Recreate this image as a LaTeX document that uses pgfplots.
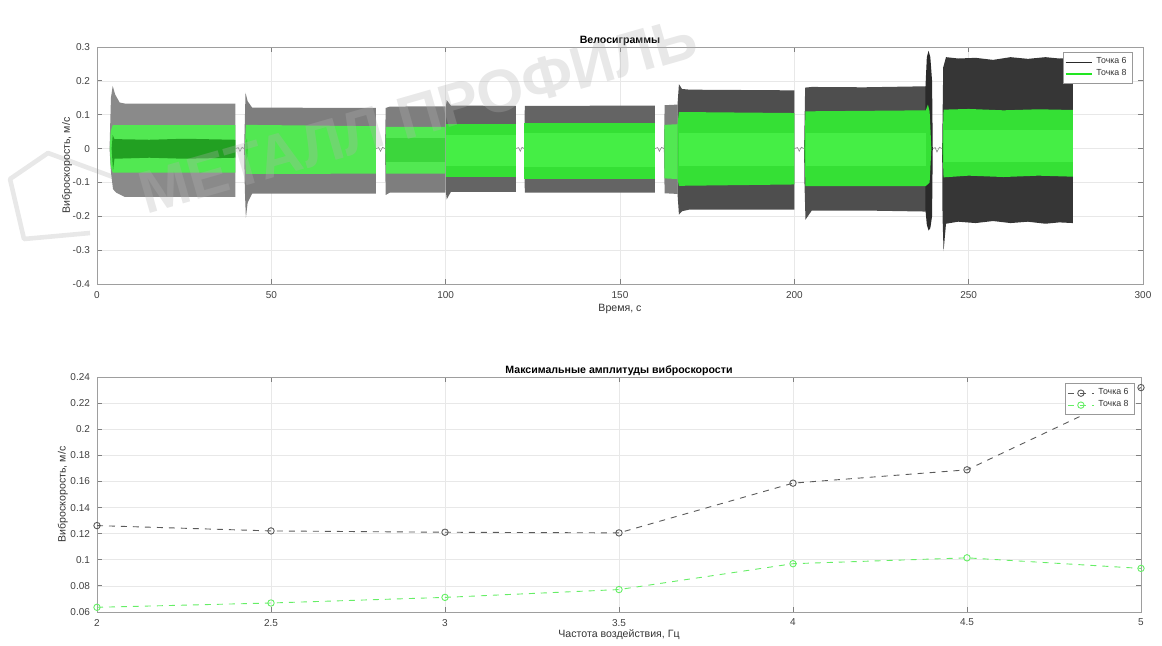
\documentclass[border=0pt]{standalone}
\usepackage{pgfplots}
\pgfplotsset{compat=1.18}
\usepackage{fontspec}
\setmainfont{Liberation Sans}
\definecolor{gA}{HTML}{8A8A8A}
\definecolor{gB}{HTML}{7E7E7E}
\definecolor{gC}{HTML}{646464}
\definecolor{gD}{HTML}{4E4E4E}
\definecolor{gE}{HTML}{363636}
\definecolor{gF}{HTML}{2A2A2A}
\definecolor{grL}{HTML}{52E852}
\definecolor{grD}{HTML}{22A022}
\definecolor{grM}{HTML}{35E035}
\definecolor{grI}{HTML}{45EE45}
\definecolor{grS}{HTML}{3CD63C}
\definecolor{lg6}{HTML}{5A5A5A}
\definecolor{lg8}{HTML}{66EE66}
\definecolor{leg8}{HTML}{22E622}
\pgfplotsset{
  mstyle/.style={
    scale only axis,
    axis line style={black!38},
    tick style={black!50, line width=0.4pt},
    major tick length=2.6pt,
    tick align=inside,
    grid=major,
    grid style={black!9, line width=0.3pt},
    tick label style={font=\fontsize{5}{6}\selectfont, text=black!75},
    label style={font=\fontsize{5.3}{6.3}\selectfont, text=black!80},
    title style={font=\bfseries\fontsize{5.3}{6.3}\selectfont, yshift=-9pt},
    /pgf/number format/assume math mode=true,
    legend style={draw=black!40, fill=white, font=\fontsize{4.4}{4.8}\selectfont,
      inner xsep=1pt, inner ysep=0.6pt, row sep=-2.6pt, text=black!80},
    legend cell align=left,
  }
}
\begin{document}
\begin{tikzpicture}
\useasboundingbox (0,0) rectangle (581pt,322.5pt);
% watermark logo
\draw[black!9, line width=2.3pt, line join=round] (45pt,206pt) -- (12pt,203pt) -- (5pt,233pt) -- (24pt,246pt) -- (62pt,232pt);
\begin{axis}[mstyle,
  at={(48.5pt,180.5pt)}, anchor=south west,
  width=523pt, height=118.5pt,
  xmin=0, xmax=300, ymin=-0.4, ymax=0.3,
  xtick={0,50,100,150,200,250,300},
  ytick={-0.4,-0.3,-0.2,-0.1,0,0.1,0.2,0.3},
  yticklabels={-0.4,-0.3,-0.2,-0.1,0,0.1,0.2,0.3},
  title={Велосиграммы},
  xlabel={Время, с}, ylabel={Виброскорость, м/с},
  xlabel style={yshift=4pt}, ylabel style={yshift=-6.5pt},
  legend style={at={(1,1)}, anchor=north east, xshift=-5pt, yshift=-2.5pt},
  legend image code/.code={\draw[#1] (0pt,0pt) -- (13pt,0pt);},
]
\addlegendimage{gF, line width=0.6pt}
\addlegendentry{Точка 6}
\addlegendimage{leg8, line width=0.7pt}
\addlegendentry{Точка 8}
% ---------- Точка 6 (grey envelopes) ----------
\addplot[fill=gA, draw=none, forget plot] coordinates {
 (3.6,0) (4.0,0.15) (4.5,0.185) (5.2,0.16) (6.5,0.136) (8,0.133) (39.7,0.133)
 (39.7,-0.143) (8,-0.143) (5.5,-0.13) (4.6,-0.12) (4.0,-0.07) (3.6,0)};
\addplot[fill=gB, draw=none, forget plot] coordinates {
 (42.2,0) (42.6,0.165) (43.2,0.14) (44.5,0.121) (80,0.12)
 (80,-0.133) (44.5,-0.133) (43.2,-0.16) (42.7,-0.205) (42.4,-0.12) (42.2,0)};
\addplot[fill=gB, draw=none, forget plot] coordinates {
 (82.6,0) (82.8,0.12) (84,0.124) (99.9,0.125)
 (99.9,-0.13) (84,-0.13) (82.8,-0.137) (82.6,0)};
\addplot[fill=gC, draw=none, forget plot] coordinates {
 (100,0.12) (100.3,0.143) (101.5,0.127) (120.1,0.126)
 (120.1,-0.128) (101.5,-0.128) (100.3,-0.15) (100,-0.12)};
\addplot[fill=gC, draw=none, forget plot] coordinates {
 (122.5,0) (122.7,0.126) (160,0.127)
 (160,-0.13) (122.7,-0.13) (122.5,0)};
\addplot[fill=gB, draw=none, forget plot] coordinates {
 (162.6,0) (162.8,0.128) (166.5,0.13)
 (166.5,-0.134) (162.8,-0.132) (162.6,0)};
\addplot[fill=gD, draw=none, forget plot] coordinates {
 (166.5,0.13) (166.9,0.19) (167.8,0.176) (170,0.174) (200,0.172)
 (200,-0.18) (170,-0.18) (167.8,-0.185) (166.9,-0.195) (166.5,-0.134)};
\addplot[fill=gD, draw=none, forget plot] coordinates {
 (202.8,0) (203.1,0.18) (205,0.182) (220,0.181) (237.7,0.184)
 (237.7,-0.186) (220,-0.183) (205,-0.183) (203.2,-0.21) (202.9,-0.1) (202.8,0)};
\addplot[fill=gF, draw=none, forget plot] coordinates {
 (237.6,0.18) (238.0,0.27) (238.5,0.289) (239.0,0.27) (239.5,0.2) (239.7,0)
 (239.5,-0.2) (239.0,-0.235) (238.5,-0.242) (238.0,-0.225) (237.6,-0.18)};
\addplot[fill=gE, draw=none, forget plot] coordinates {
 (242.4,0) (242.7,0.24) (243.5,0.27) (247,0.266) (252,0.268) (257,0.262) (262,0.27)
 (267,0.265) (272,0.27) (276,0.266) (279.9,0.268)
 (279.9,-0.22) (276,-0.218) (272,-0.222) (267,-0.216) (262,-0.22) (257,-0.214)
 (252,-0.22) (247,-0.216) (243.5,-0.222) (242.8,-0.303) (242.5,-0.2) (242.4,0)};
% gap transients
\addplot[black!45, line width=0.3pt, forget plot] coordinates {(39.7,0) (40.5,0.003) (41,-0.008) (41.6,0.004) (42.2,0)};
\addplot[black!45, line width=0.3pt, forget plot] coordinates {(80,0) (80.8,0.003) (81.3,-0.008) (81.9,0.004) (82.6,0)};
\addplot[black!45, line width=0.3pt, forget plot] coordinates {(120.1,0) (120.9,0.003) (121.4,-0.008) (121.9,0.004) (122.5,0)};
\addplot[black!45, line width=0.3pt, forget plot] coordinates {(160,0) (160.8,0.003) (161.3,-0.008) (161.9,0.004) (162.6,0)};
\addplot[black!45, line width=0.3pt, forget plot] coordinates {(200,0) (200.9,0.003) (201.4,-0.008) (202,0.004) (202.8,0)};
\addplot[black!45, line width=0.3pt, forget plot] coordinates {(239.7,0) (240.4,0.003) (240.9,-0.01) (241.6,0.004) (242.4,0)};
% ---------- Точка 8 (green envelopes) ----------
\addplot[fill=grL, draw=none, forget plot] coordinates {
 (3.7,0) (3.9,0.05) (4.5,0.069) (39.7,0.069) (39.7,-0.071) (4.5,-0.071) (3.9,-0.05) (3.7,0)};
\addplot[fill=grD, draw=none, forget plot] coordinates {
 (4.2,0) (4.5,0.04) (5,0.028) (15,0.026) (25,0.029) (39.7,0.026)
 (39.7,-0.027) (25,-0.03) (15,-0.027) (5,-0.03) (4.6,-0.065) (4.2,0)};
\addplot[fill=grL, draw=none, forget plot] coordinates {
 (42.4,0) (42.7,0.07) (80,0.066) (80,-0.074) (42.7,-0.075) (42.4,0)};
\addplot[fill=grS, draw=none, forget plot] coordinates {
 (42.6,0.02) (43,0.03) (43.3,0.0) (43,-0.035) (42.6,-0.02)};
\addplot[fill=grL, draw=none, forget plot] coordinates {
 (82.7,0) (82.9,0.064) (99.9,0.064) (99.9,-0.074) (82.9,-0.074) (82.7,0)};
\addplot[fill=grS, draw=none, forget plot] coordinates {
 (82.9,0.03) (99.9,0.03) (99.9,-0.04) (82.9,-0.04)};
\addplot[fill=grM, draw=none, forget plot] coordinates {
 (100,0.074) (120.1,0.074) (120.1,-0.084) (100,-0.084)};
\addplot[fill=grI, draw=none, forget plot] coordinates {
 (100,0.04) (120.1,0.04) (120.1,-0.05) (100,-0.05)};
\addplot[fill=grM, draw=none, forget plot] coordinates {
 (122.6,0.077) (160,0.077) (160,-0.09) (122.6,-0.09)};
\addplot[fill=grI, draw=none, forget plot] coordinates {
 (122.6,0.045) (160,0.045) (160,-0.055) (122.6,-0.055)};
\addplot[fill=grL, draw=none, forget plot] coordinates {
 (162.7,0.07) (166.5,0.072) (166.5,-0.09) (162.7,-0.088)};
\addplot[fill=grM, draw=none, forget plot] coordinates {
 (166.5,0.072) (166.9,0.108) (200,0.105) (200,-0.106) (166.9,-0.11) (166.5,-0.09)};
\addplot[fill=grI, draw=none, forget plot] coordinates {
 (167,0.045) (200,0.045) (200,-0.05) (167,-0.05)};
\addplot[fill=grM, draw=none, forget plot] coordinates {
 (202.9,0) (203.2,0.11) (237.7,0.113) (238.3,0.13) (238.8,0.11) (239.3,0)
 (238.8,-0.1) (237.7,-0.111) (203.2,-0.111) (202.9,0)};
\addplot[fill=grI, draw=none, forget plot] coordinates {
 (203.2,0.045) (237.7,0.045) (237.7,-0.05) (203.2,-0.05)};
\addplot[fill=grM, draw=none, forget plot] coordinates {
 (242.5,0) (242.8,0.115) (250,0.117) (260,0.113) (270,0.116) (279.9,0.114)
 (279.9,-0.083) (270,-0.08) (260,-0.084) (250,-0.08) (242.8,-0.085) (242.5,0)};
\addplot[fill=grI, draw=none, forget plot] coordinates {
 (242.8,0.055) (279.9,0.055) (279.9,-0.04) (242.8,-0.04)};
\end{axis}
\begin{axis}[mstyle,
  at={(48.5pt,16.5pt)}, anchor=south west,
  width=522pt, height=117.5pt,
  xmin=2, xmax=5, ymin=0.06, ymax=0.24,
  xtick={2,2.5,3,3.5,4,4.5,5},
  xticklabels={2,2.5,3,3.5,4,4.5,5},
  ytick={0.06,0.08,0.1,0.12,0.14,0.16,0.18,0.2,0.22,0.24},
  yticklabels={0.06,0.08,0.1,0.12,0.14,0.16,0.18,0.2,0.22,0.24},
  title={Максимальные амплитуды виброскорости},
  xlabel={Частота воздействия, Гц}, ylabel={Виброскорость, м/с},
  xlabel style={yshift=5pt}, ylabel style={yshift=-5.5pt},
  clip=false,
  legend style={at={(1,1)}, anchor=north east, xshift=-3pt, yshift=-3pt},
  legend image code/.code={\draw[#1, mark repeat=2, mark phase=2] plot coordinates {(0pt,0pt) (6.5pt,0pt) (13pt,0pt)};},
]
\addplot[lg6, dashed, line width=0.45pt, mark=o, mark size=1.6pt, mark options={solid}]
 coordinates {(2,0.1262) (2.5,0.1221) (3,0.1211) (3.5,0.1206) (4,0.1587) (4.5,0.1689) (5,0.2319)};
\addlegendentry{Точка 6}
\addplot[lg8, dashed, line width=0.45pt, mark=o, mark size=1.6pt, mark options={solid}]
 coordinates {(2,0.0636) (2.5,0.0669) (3,0.0712) (3.5,0.0772) (4,0.0970) (4.5,0.1015) (5,0.0934)};
\addlegendentry{Точка 8}
\end{axis}
% watermark text
\node[rotate=16, text=black!30, opacity=0.3, font=\bfseries\fontsize{30}{30}\selectfont] at (209pt,265pt) {МЕТАЛЛ ПРОФИЛЬ};
\end{tikzpicture}
\end{document}
